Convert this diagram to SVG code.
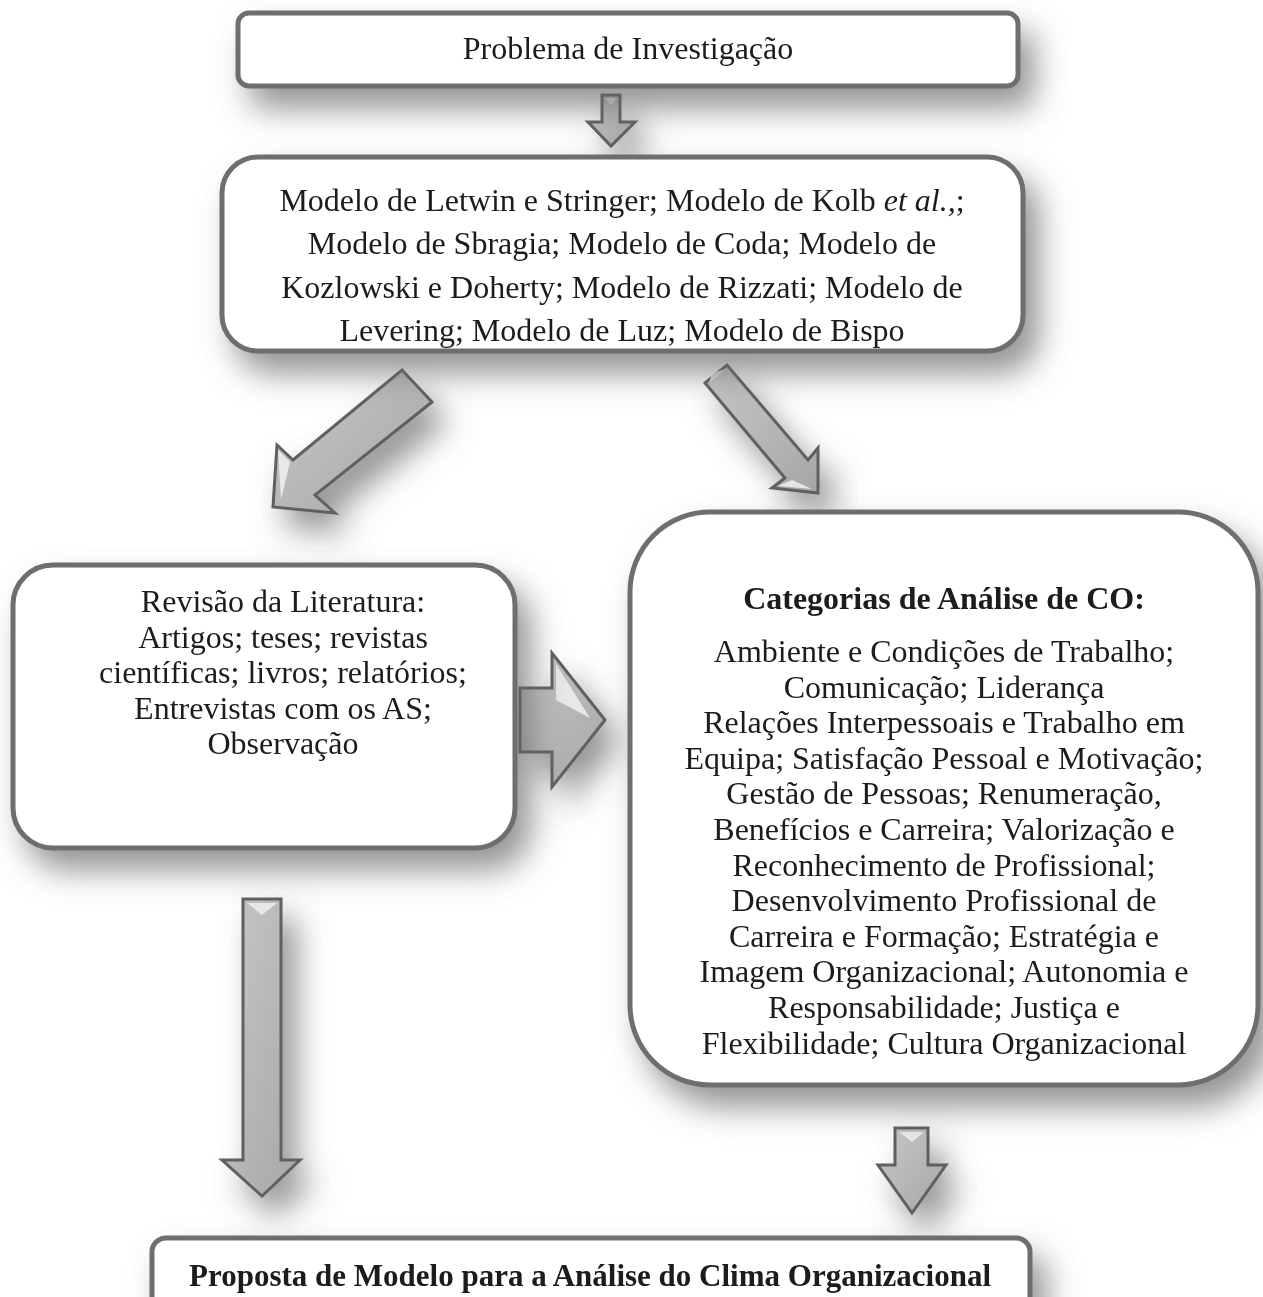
<svg xmlns="http://www.w3.org/2000/svg" width="1263" height="1297" viewBox="0 0 1263 1297">
<defs>
<filter id="sh" filterUnits="userSpaceOnUse" x="-100" y="-100" width="1463" height="1497">
<feGaussianBlur in="SourceAlpha" stdDeviation="16"/>
<feOffset dx="14" dy="20" result="b"/>
<feFlood flood-color="#666666" flood-opacity="0.7"/>
<feComposite in2="b" operator="in" result="s"/>
<feMerge><feMergeNode in="s"/><feMergeNode in="SourceGraphic"/></feMerge>
</filter>
<linearGradient id="ag" x1="0" y1="0" x2="1" y2="1">
<stop offset="0" stop-color="#c8c8c8"/>
<stop offset="1" stop-color="#a6a6a6"/>
</linearGradient>
</defs>
<style>
.box{fill:#fff;stroke:#6e6e6e;stroke-width:5}
.arr{fill:url(#ag);stroke:#616161;stroke-width:3;stroke-linejoin:miter}
.hl{fill:#f0f0f0;opacity:0.85}
.t{font-family:"Liberation Serif","Times New Roman",serif;font-size:32px;fill:#1a1a1a;text-anchor:middle}
.b{font-weight:bold}
</style>
<rect width="1263" height="1297" fill="#fff"/>
<g id="connectors" filter="url(#sh)">
<g id="a1">
<polygon class="arr" points="602,95 620,95 620,122 635,122 611,146 588,122 602,122"/>
<polygon class="hl" points="605,98 617,98 611,105"/>
</g>
<g id="a2">
<polygon class="arr" points="402,370 432,402 315,495 335,513 273,507 277,445 293,460"/>
<polygon class="hl" points="404,375 427,400 418,390"/>
<polygon class="hl" points="278,450 290,462 281,500"/>
</g>
<g id="a3">
<polygon class="arr" points="705,383 727,365 808,460 818,448 818,493 772,488 785,478"/>
<polygon class="hl" points="709,383 726,369 712,373"/>
<polygon class="hl" points="778,486 812,489 792,480"/>
</g>
<g id="a4">
<polygon class="arr" points="520,688 552,688 552,653 605,720 552,787 552,752 520,752"/>
<polygon class="hl" points="556,664 556,700 590,718"/>
</g>
<g id="a5">
<polygon class="arr" points="243,899 281,899 281,1160 300,1160 262,1196 222,1160 243,1160"/>
<polygon class="hl" points="247,903 277,903 262,915"/>
</g>
<g id="a6">
<polygon class="arr" points="895,1128 928,1128 928,1165 946,1165 912,1213 878,1165 895,1165"/>
<polygon class="hl" points="899,1132 924,1132 912,1142"/>
</g>
</g>
<g id="n1" filter="url(#sh)">
<rect class="box" x="238" y="13" width="780" height="73" rx="11"/>
<text class="t" x="628" y="59">Problema de Investigação</text>
</g>
<g id="n2" filter="url(#sh)">
<rect class="box" x="222" y="157" width="801" height="194" rx="36"/>
<text class="t" x="622" y="211">Modelo de Letwin e Stringer; Modelo de Kolb <tspan font-style="italic">et al.,</tspan>;</text>
<text class="t" x="622" y="254">Modelo de Sbragia; Modelo de Coda; Modelo de</text>
<text class="t" x="622" y="298">Kozlowski e Doherty; Modelo de Rizzati; Modelo de</text>
<text class="t" x="622" y="341">Levering; Modelo de Luz; Modelo de Bispo</text>
</g>
<g id="n3" filter="url(#sh)">
<rect class="box" x="13" y="565" width="502" height="283" rx="40"/>
<text class="t" x="283" y="612">Revisão da Literatura:</text>
<text class="t" x="283" y="648">Artigos; teses; revistas</text>
<text class="t" x="283" y="683">científicas; livros; relatórios;</text>
<text class="t" x="283" y="719">Entrevistas com os AS;</text>
<text class="t" x="283" y="754">Observação</text>
</g>
<g id="n4" filter="url(#sh)">
<rect class="box" x="630" y="512" width="628" height="573" rx="80"/>
<text class="t b" x="944" y="609">Categorias de Análise de CO:</text>
<text class="t" x="944" y="662">Ambiente e Condições de Trabalho;</text>
<text class="t" x="944" y="698">Comunicação; Liderança</text>
<text class="t" x="944" y="733">Relações Interpessoais e Trabalho em</text>
<text class="t" x="944" y="769">Equipa; Satisfação Pessoal e Motivação;</text>
<text class="t" x="944" y="804">Gestão de Pessoas; Renumeração,</text>
<text class="t" x="944" y="840">Benefícios e Carreira; Valorização e</text>
<text class="t" x="944" y="876">Reconhecimento de Profissional;</text>
<text class="t" x="944" y="911">Desenvolvimento Profissional de</text>
<text class="t" x="944" y="947">Carreira e Formação; Estratégia e</text>
<text class="t" x="944" y="982">Imagem Organizacional; Autonomia e</text>
<text class="t" x="944" y="1018">Responsabilidade; Justiça e</text>
<text class="t" x="944" y="1054">Flexibilidade; Cultura Organizacional</text>
</g>
<g id="n5" filter="url(#sh)">
<rect class="box" x="152" y="1238" width="878" height="80" rx="14"/>
<text class="t b" x="590" y="1286" style="font-size:31px">Proposta de Modelo para a Análise do Clima Organizacional</text>
</g>
</svg>
